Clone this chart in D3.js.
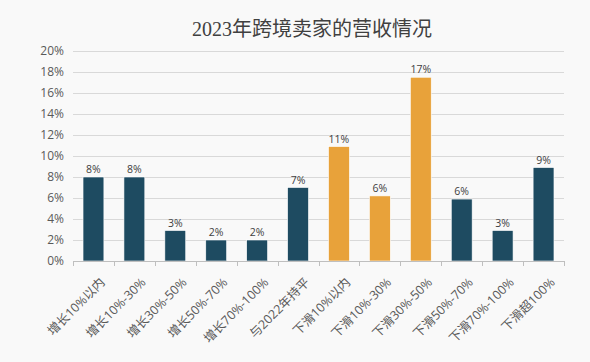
<!DOCTYPE html>
<html>
<head>
<meta charset="utf-8">
<script src="https://cdn.jsdelivr.net/npm/d3@7"></script>
<style>
  body { margin: 0; background: #f9f9f9; }
  svg { display: block; }
</style>
</head>
<body>
<div id="chart-area"></div>
<script>
// chart data
let categories = ["增长10%以内", "增长10%-30%", "增长30%-50%", "增长50%-70%", "增长70%-100%", "与2022年持平",
	"下滑10%以内", "下滑10%-30%", "下滑30%-50%", "下滑50%-70%", "下滑70%-100%", "下滑超100%"];
let values = [8.0, 8.0, 2.9, 2.0, 2.0, 7.0, 10.9, 6.2, 17.5, 5.9, 2.9, 8.9];
let labels = ["8%", "8%", "3%", "2%", "2%", "7%", "11%", "6%", "17%", "6%", "3%", "9%"];
let highlighted = ["下滑10%以内", "下滑10%-30%", "下滑30%-50%"];
let yTicks = [0, 2, 4, 6, 8, 10, 12, 14, 16, 18, 20];

let margin = {top: 51, right: 26, bottom: 101, left: 73};
let width = 590 - margin.left - margin.right;
let height = 362 - margin.top - margin.bottom;

let root = d3.select("#chart-area").append("svg")
	.attr("width", 590)
	.attr("height", 362);

root.append("text")
	.attr("x", 312)
	.attr("y", 36)
	.attr("text-anchor", "middle")
	.attr("font-family", "'Liberation Serif', 'Noto Sans CJK SC', serif")
	.attr("font-size", 20)
	.attr("fill", "#404040")
	.text("2023年跨境卖家的营收情况");

let svg = root.append("g")
	.attr("transform", "translate(" + margin.left + "," + margin.top + ")");

let xScale = d3.scaleBand()
	.domain(categories)
	.range([0, width])
	.paddingInner(0.49)
	.paddingOuter(0.245);

let yScale = d3.scaleLinear()
	.domain([0, 20])
	.range([height, 0]);

// gridlines
svg.selectAll(".grid")
	.data(yTicks.filter(d => d > 0))
	.enter()
	.append("line")
	.attr("class", "grid")
	.attr("x1", 0)
	.attr("x2", width)
	.attr("y1", d => Math.round(yScale(d)) + 0.5)
	.attr("y2", d => Math.round(yScale(d)) + 0.5)
	.attr("stroke", "#d9d9d9")
	.attr("stroke-width", 1);

// y axis labels (no line)
let yAxis = d3.axisLeft(yScale)
	.tickValues(yTicks)
	.tickSize(0)
	.tickPadding(9)
	.tickFormat(d => d + "%");

let yAxisGroup = svg.append("g").call(yAxis);
yAxisGroup.select(".domain").remove();
yAxisGroup.selectAll("text")
	.attr("font-family", "'Open Sans', sans-serif")
	.attr("font-size", 12)
	.attr("fill", "#595959");

// bars
svg.selectAll(".bar")
	.data(values)
	.enter()
	.append("rect")
	.attr("class", "bar")
	.attr("x", (d, i) => xScale(categories[i]))
	.attr("y", d => yScale(d))
	.attr("width", xScale.bandwidth())
	.attr("height", d => height - yScale(d))
	.attr("fill", (d, i) => highlighted.includes(categories[i]) ? "#e8a23a" : "#1e4b61")
	.attr("stroke", "#ffffff")
	.attr("stroke-width", 0.6);

// value labels
svg.selectAll(".value-label")
	.data(values)
	.enter()
	.append("text")
	.attr("class", "value-label")
	.attr("x", (d, i) => xScale(categories[i]) + xScale.bandwidth() / 2)
	.attr("y", d => yScale(d) - 4)
	.attr("text-anchor", "middle")
	.attr("font-family", "'Open Sans', sans-serif")
	.attr("font-size", 10.5)
	.attr("fill", "#404040")
	.text((d, i) => labels[i]);

// x axis line with ticks between categories
let step = xScale.step();
let xAxisGroup = svg.append("g")
	.attr("transform", "translate(0," + height + ")");

xAxisGroup.append("line")
	.attr("x1", 0)
	.attr("x2", width)
	.attr("y1", 0.5)
	.attr("y2", 0.5)
	.attr("stroke", "#bfbfbf");

xAxisGroup.selectAll(".xtick")
	.data(d3.range(categories.length + 1))
	.enter()
	.append("line")
	.attr("class", "xtick")
	.attr("x1", d => Math.round(d * step) + 0.5)
	.attr("x2", d => Math.round(d * step) + 0.5)
	.attr("y1", 0)
	.attr("y2", 5)
	.attr("stroke", "#bfbfbf");

xAxisGroup.selectAll(".xlabel")
	.data(categories)
	.enter()
	.append("text")
	.attr("class", "xlabel")
	.attr("transform", d => "translate(" + (xScale(d) + xScale.bandwidth() / 2 + 6) + ",16) rotate(-45)")
	.attr("text-anchor", "end")
	.attr("dy", "0.7em")
	.attr("font-family", "'Open Sans', 'Noto Sans CJK SC', sans-serif")
	.attr("font-size", 12.5)
	.attr("fill", "#595959")
	.text(d => d);
</script>
</body>
</html>
